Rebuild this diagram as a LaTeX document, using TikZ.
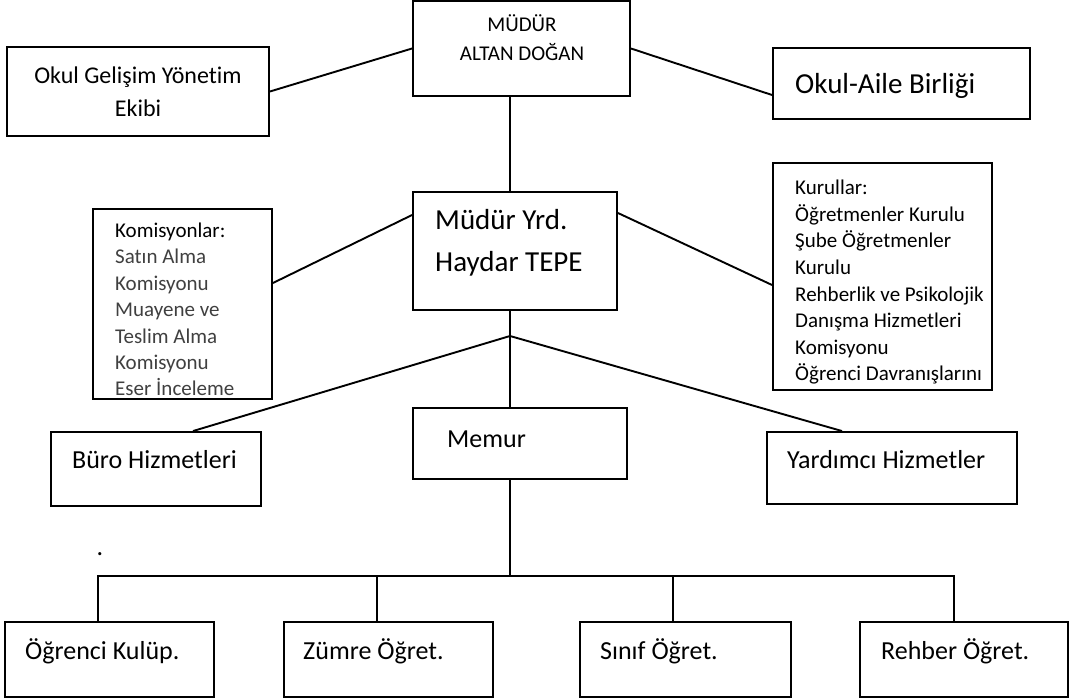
\documentclass[tikz,border=0pt]{standalone}
\usepackage{fontspec}
\setmainfont{Carlito}[Ligatures=NoCommon]
\usetikzlibrary{calc}
\definecolor{kgray}{RGB}{64,64,64}
\begin{document}
\begin{tikzpicture}[x=1pt,y=-1pt,
  box/.style={draw=black, line width=1.9pt, inner sep=0pt, fill=white},
  conn/.style={draw=black, line width=1.9pt},
  txt/.style={inner sep=0pt, text=black},
  fa/.style={font=\fontsize{21}{29}\selectfont},
  fb/.style={font=\fontsize{24}{33}\selectfont},
  fc/.style={font=\fontsize{26}{31}\selectfont},
  fd/.style={font=\fontsize{29}{42}\selectfont},
  fk/.style={font=\fontsize{21}{26.4}\selectfont},
  fr/.style={font=\fontsize{21}{26.57}\selectfont}]
\useasboundingbox (0,0) rectangle (1078,700);
% boxes
\node[box, minimum width=217pt, minimum height=95pt] (mudur) at (521.5,48.5) {};
\node[box, minimum width=262pt, minimum height=89pt] (ogy) at (138,91.5) {};
\node[box, minimum width=257pt, minimum height=71pt] (oab) at (901.5,83.5) {};
\node[box, minimum width=204pt, minimum height=118pt] (yrd) at (515,251) {};
\node[box, minimum width=179pt, minimum height=190pt] (kom) at (182.5,304) {};
\node[box, minimum width=219pt, minimum height=227pt] (kur) at (882.5,276.5) {};
\node[box, minimum width=210pt, minimum height=74pt] (buro) at (156,469) {};
\node[box, minimum width=214pt, minimum height=71pt] (memur) at (520,443.5) {};
\node[box, minimum width=250pt, minimum height=72pt] (yard) at (892,468) {};
\node[box, minimum width=209pt, minimum height=75pt] (ogr) at (109.5,659.5) {};
\node[box, minimum width=209pt, minimum height=75pt] (zum) at (388.5,659.5) {};
\node[box, minimum width=211pt, minimum height=75pt] (sin) at (685.5,659.5) {};
\node[box, minimum width=208pt, minimum height=75pt] (reh) at (964,659.5) {};
% texts
\node[txt, fa, align=center] (t-mudur) at (522,40.7) {\strut MÜDÜR\\\strut ALTAN DOĞAN};
\node[txt, fb, align=center] (t-ogy) at (138,93) {\strut Okul Gelişim Yönetim\\\strut Ekibi};
\node[txt, fd, anchor=base west] (t-oab) at (795,94) {Okul-Aile Birliği};
\node[txt, fd, align=left, anchor=west] (t-yrd) at (435,242.6) {\strut Müdür Yrd.\\\strut Haydar TEPE};
\node[txt, fk, align=left, anchor=west] (t-kom) at (115,311.5) {\strut Komisyonlar:\\\color{kgray}\strut Satın Alma\\\color{kgray}\strut Komisyonu\\\color{kgray}\strut Muayene ve\\\color{kgray}\strut Teslim Alma\\\color{kgray}\strut Komisyonu\\\color{kgray}\strut Eser İnceleme};
\node[txt, fr, align=left, anchor=west] (t-kur) at (795,282.5) {\strut Kurullar:\\\strut Öğretmenler Kurulu\\\strut Şube Öğretmenler\\\strut Kurulu\\\strut Rehberlik ve Psikolojik\\\strut Danışma Hizmetleri\\\strut Komisyonu\\\strut Öğrenci Davranışlarını};
\node[txt, fc, anchor=base west] (t-buro) at (72,468) {Büro Hizmetleri};
\node[txt, fc, anchor=base west] (t-memur) at (447,447) {Memur};
\node[txt, fc, anchor=base west] (t-yard) at (787,468) {Yardımcı Hizmetler};
\node[txt, fc, anchor=base west] (t-ogr) at (25,659) {Öğrenci Kulüp.};
\node[txt, fc, anchor=base west] (t-zum) at (303,659) {Zümre Öğret.};
\node[txt, fc, anchor=base west] (t-sin) at (600,659) {Sınıf Öğret.};
\node[txt, fc, anchor=base west] (t-reh) at (881,659) {Rehber Öğret.};
\node[txt, fc, anchor=base] (dot) at (100,555) {.};
% connectors
\coordinate (sp) at (510,336);
\coordinate (v1) at (98,576);
\coordinate (v2) at (377,576);
\coordinate (v3) at (673,576);
\coordinate (v4) at (954,576);
\draw[conn] (ogy.east) -- (mudur.west);
\draw[conn] (mudur.east) -- ([yshift=-11.5pt]oab.west);
\draw[conn] (sp |- mudur.south) -- (sp |- yrd.north);
\draw[conn] ([yshift=21pt]kom.east) -- ([yshift=36pt]yrd.west);
\draw[conn] ([yshift=38pt]yrd.east) -- ([yshift=-8.5pt]kur.west);
\draw[conn] (sp |- yrd.south) -- (sp);
\draw[conn] (sp) -- (sp |- memur.north);
\draw[conn] (sp) -- ([xshift=37pt]buro.north);
\draw[conn] (sp) -- ([xshift=-50pt]yard.north);
\draw[conn] (sp |- memur.south) -- (sp |- v1);
\draw[conn] (v1 |- ogr.north) -- (v1) -- (v4) -- (v4 |- reh.north);
\draw[conn] (v2) -- (v2 |- zum.north);
\draw[conn] (v3) -- (v3 |- sin.north);
\end{tikzpicture}
\end{document}
